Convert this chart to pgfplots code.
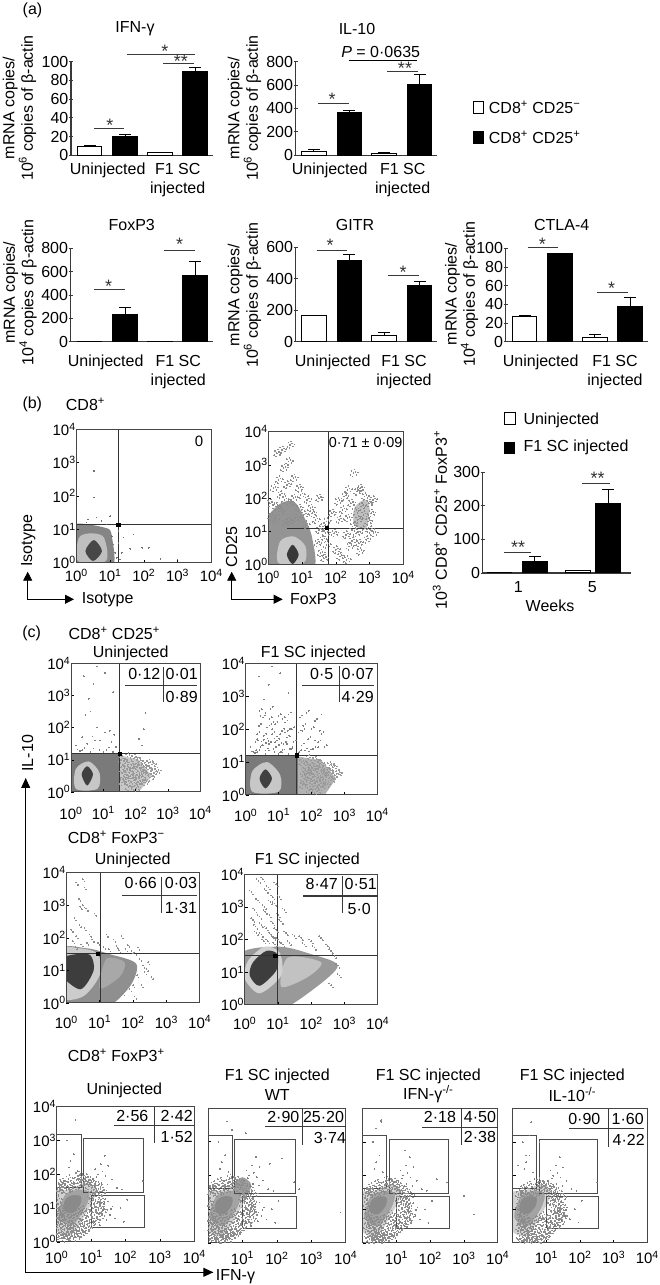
\documentclass[border=0pt]{standalone}
\usepackage{pgfplots}
\usepackage{pgfplotstable}
\pgfplotsset{compat=1.18}
\usepackage{fontspec}
\setmainfont{Liberation Sans}
\usetikzlibrary{arrows.meta}
\newcommand\fa{\fontsize{16}{19}\selectfont}
\newcommand\fy{\fontsize{16}{16.5}\selectfont}
\newcommand\fc{\fontsize{15}{17}\selectfont}
\newcommand\fs{\fontsize{18}{18}\selectfont}
\newcommand\tk[1]{10\textsuperscript{#1}}
\def\lshift{-2pt}
\def\tshift{-5pt}
\colorlet{ln}{gray!45!black}
\pgfplotsset{
 barax/.style={scale only axis,anchor=south west,axis x line=bottom,axis y line=left,
  axis line style={-,draw=ln,line width=1.1pt},xmin=0,ymin=0,clip=false,
  /pgf/number format/assume math mode=true,scaled y ticks=false,
  tick label style={font=\fa,inner sep=0.5pt},major tick length=4pt,
  ytick style={draw=ln,line width=.8pt},xtick style={draw=none},
  x tick label style={align=center,yshift=\lshift}},
 errs/.style={error bars/.cd,y dir=plus,y explicit,error bar style={line width=1pt,black},
  error mark options={rotate=90,mark size=6pt,line width=1pt,black}},
 wbar/.style={ybar,bar shift=0pt,bar width=24.5pt,fill=white,draw=black,line width=1pt,errs},
 bbar/.style={ybar,bar shift=0pt,bar width=24.5pt,fill=black,draw=black,line width=1pt,errs},
 flow/.style={scale only axis,anchor=south west,xmin=0,xmax=4,ymin=0,ymax=4,axis on top,
  xtick={0,1,2,3,4},ytick={0,1,2,3,4},
  xticklabels={\tk0,\tk1,\tk2,\tk3,\tk4},yticklabels={\tk0,\tk1,\tk2,\tk3,\tk4},
  axis line style={draw=gray!55!black,line width=1pt},tick align=inside,major tick length=3pt,
  xtick pos=bottom,ytick pos=left,tick style={draw=black,line width=.6pt},
  tick label style={font=\fc,inner sep=0.5pt},x tick label style={yshift=\tshift}},
 flowb/.style={flow,xticklabels={,\tk1,\tk2,\tk3,\tk4},yticklabels={}},
 blob/.style={draw=none,fill=#1,smooth cycle,mark=none},
 pts/.style={only marks,mark=*,mark size=.32pt,color=#1,mark options={draw=#1,fill=#1,line width=0pt}},
 gateline/.style={draw=gray!60!black,line width=.8pt,mark=none},
 qline/.style={draw=black!80,line width=.8pt,mark=none}
}
\pgfplotstableread[row sep=crcr]{x y\\
.05 .3\\.12 .15\\.2 .42\\.28 .22\\.33 .55\\.4 .1\\.47 .38\\.55 .6\\.6 .28\\.68 .47\\.75 .7\\.82 .55\\.9 .8\\.97 .62\\1.05 .95\\1.1 .75\\1.18 1.1\\1.22 .9\\1.15 1.3\\1.08 1.5\\1.02 1.72\\.93 1.6\\.85 1.85\\.78 1.7\\.66 1.62\\.58 1.78\\.47 1.55\\.38 1.65\\.29 1.48\\.18 1.58\\.07 1.45\\.02 1.2\\.1 1.62\\.04 .85\\.15 .68\\.03 .55\\.24 .8\\.31 .72\\.09 1.0\\.5 .75\\.62 .82\\.72 1.85\\1.0 1.15\\1.12 1.42\\.25 .05\\.52 .18\\.86 .35\\.7 .2\\.36 .32\\.16 .48\\1.28 1.2\\1.32 1.45\\1.26 .7\\.95 .42\\.45 .25\\.12 .58\\.22 .33\\.08 .72\\.41 .47\\.64 .38\\.8 .25\\.98 1.35\\.88 1.75\\.62 1.92\\.34 1.82\\.15 1.72\\1.18 1.62\\1.24 1.05\\.57 .08\\.3 .12\\.74 .9\\.02 1.55\\.06 .12\\1.14 .58\\1.34 .88\\
}\tcloud
\pgfplotstableread[row sep=crcr]{x y\\
1.05 1.85\\1.2 2.0\\1.12 2.15\\1.3 1.75\\1.42 1.95\\1.5 2.25\\1.28 2.3\\1.6 1.85\\1.75 1.6\\1.9 1.55\\1.2 .85\\1.35 .95\\1.5 1.2\\1.55 .8\\1.62 1.05\\1.7 .7\\1.85 1.0\\1.95 .6\\2.05 1.25\\1.45 .65\\1.1 .6\\1.25 .5\\1.4 2.55\\.3 3.0\\.55 3.6\\.35 2.2\\.5 2.6\\2.5 1.8\\.6 2.1\\.4 2.4\\1.38 1.15\\1.16 1.92\\1.22 1.68\\1.48 1.7\\1.33 2.08\\1.58 .98\\
}\tright
\pgfplotstableread[row sep=crcr]{x y\\
.35 1.3\\.5 1.5\\.7 1.35\\.9 1.6\\1.1 1.3\\1.25 1.55\\1.4 1.4\\1.2 1.9\\.8 2.0\\.6 2.5\\.45 2.4\\.4 3.6\\1.05 3.7\\.8 3.9\\1.3 3.1\\.55 2.9\\.35 1.7\\.15 1.45\\1.0 1.25\\1.3 1.25\\.6 1.25\\.75 1.6\\1.05 1.85\\.28 1.28\\.2 1.32\\.42 1.36\\.88 1.3\\1.18 1.38\\.66 1.72\\1.34 1.78\\2.25 1.95\\2.1 1.65\\2.2 1.45\\2.3 2.45\\.7 3.35\\
}\tup
\pgfplotstableread[row sep=crcr]{x y\\
1.55 1.0\\1.6 .7\\1.68 .9\\1.7 .4\\1.75 1.1\\1.8 .6\\1.85 .85\\1.9 .25\\1.95 1.05\\2.0 .5\\2.05 .8\\2.1 .95\\2.15 .35\\2.2 .65\\2.25 .8\\2.3 .55\\2.38 .7\\2.45 .45\\2.5 .85\\2.55 .6\\2.65 .65\\1.58 .3\\1.62 .5\\1.78 .15\\1.88 .42\\2.02 .12\\2.12 .58\\2.28 .3\\2.4 .9\\1.72 .72\\1.92 .75\\2.08 .32\\
}\tlow
\pgfplotstableread[row sep=crcr]{x y\\
.25 1.3\\.3 1.6\\.4 2.1\\.45 1.45\\.52 2.35\\.55 1.8\\.6 1.35\\.65 2.05\\.7 1.55\\.72 2.3\\.8 1.85\\.85 1.4\\.9 2.15\\.95 1.65\\1.0 2.4\\1.05 1.3\\1.1 1.95\\1.15 1.55\\1.2 2.2\\1.25 1.75\\1.3 2.45\\1.35 1.4\\1.4 2.0\\1.45 1.6\\1.6 1.9\\1.65 2.35\\1.7 1.5\\1.75 2.1\\1.8 1.35\\1.85 2.5\\1.9 1.7\\2.0 2.0\\2.05 1.4\\2.1 2.25\\2.2 1.6\\2.3 1.85\\2.4 1.45\\.35 1.85\\.48 1.62\\.62 1.58\\.78 2.15\\.88 1.72\\1.02 1.52\\1.12 2.3\\1.28 1.95\\1.62 1.3\\1.72 1.95\\1.92 1.32\\.42 2.55\\.75 2.62\\
}\tupb
\pgfplotstableread[row sep=crcr]{x y\\
.2 1.9\\.3 3.7\\.5 3.8\\.55 3.55\\.42 2.95\\.5 3.0\\.6 2.9\\.25 2.6\\.4 2.4\\.55 2.3\\.7 2.1\\.85 2.75\\.3 2.05\\.15 2.25\\.62 1.85\\.78 1.95\\.95 1.85\\1.2 2.1\\1.42 1.95\\1.5 1.75\\1.65 2.05\\1.78 1.65\\1.95 1.6\\2.05 1.55\\2.15 1.7\\2.2 1.35\\2.3 1.15\\2.35 .95\\2.45 1.25\\2.55 .8\\2.12 .85\\2.25 .55\\2.05 .2\\1.9 .42\\1.7 .3\\2.0 .55\\2.4 1.05\\1.12 1.72\\.45 1.8\\.28 1.72\\1.28 1.65\\1.58 1.62\\1.85 1.78\\.38 3.2\\
}\tsd
\pgfplotstableread[row sep=crcr]{x y\\
.55 3.85\\.72 3.6\\.4 3.2\\.6 3.0\\.9 3.1\\.75 2.75\\.45 2.7\\.85 2.5\\.65 2.35\\.95 2.3\\.35 2.2\\1.0 2.0\\1.1 2.55\\1.25 2.2\\1.5 2.1\\1.7 2.05\\.2 3.45\\.3 2.9\\.5 2.45\\.8 2.15\\.85 3.3\\.65 3.5\\.5 2.15\\.7 1.95\\.92 1.85\\.25 2.6\\.95 3.7\\1.05 3.3\\1.2 2.9\\1.35 1.9\\1.8 1.85\\2.0 1.95\\2.1 1.75\\2.3 2.05\\2.5 1.8\\2.6 1.65\\2.7 1.5\\2.8 1.2\\2.85 .9\\2.6 .6\\.62 2.85\\.78 3.15\\.42 3.8\\.88 2.05\\1.02 2.75\\.58 1.95\\.33 2.4\\1.15 1.85\\
}\tsdb
\pgfplotstableread[row sep=crcr]{x y\\
.2 1.35\\.35 1.6\\.5 1.25\\.65 1.85\\.8 1.4\\.95 2.1\\1.1 1.2\\1.25 1.7\\1.4 1.35\\1.5 2.0\\1.62 1.15\\1.72 .6\\1.55 .35\\1.7 .95\\.35 2.1\\.55 2.4\\.75 2.6\\.45 2.9\\.6 3.1\\.4 3.45\\.65 3.6\\.25 3.35\\.3 2.55\\.9 1.7\\.15 2.3\\.9 2.3\\1.15 1.95\\.05 1.85\\.08 1.45\\.62 1.3\\1.45 .65\\1.6 .75\\1.65 .2\\1.5 1.05\\1.72 1.3\\1.3 1.55\\1.05 1.5\\.75 2.0\\.48 1.95\\.22 1.75\\
2.05 1.9\\2.1 1.35\\2.2 1.65\\2.25 2.05\\2.3 .9\\2.35 1.4\\2.4 .55\\2.45 1.85\\2.5 1.15\\2.55 1.6\\2.6 .95\\2.62 2.2\\2.65 1.35\\2.7 .4\\2.75 1.75\\2.8 1.05\\2.82 1.5\\2.85 2.05\\2.9 .75\\2.95 1.3\\2.98 1.85\\3.02 1.05\\3.05 1.55\\3.1 1.95\\2.12 .25\\2.32 .15\\2.48 .72\\2.68 .65\\2.72 2.3\\3.12 .95\\2.52 2.75\\2.35 2.25\\1.95 .95\\2.0 .45\\1.88 1.55\\
}\tbtwo
% stipple: the same typed point list laid down at a few small offsets, for texture
\newcommand\stip[4]{% table, colour, dx, dy
 \addplot[pts=#2] table[x expr=\thisrow{x}+#3,y expr=\thisrow{y}+#4] {#1};
 \addplot[pts=#2] table[x expr=\thisrow{x}+#3+.06,y expr=\thisrow{y}+#4+.04] {#1};
 \addplot[pts=#2] table[x expr=\thisrow{x}+#3-.05,y expr=\thisrow{y}+#4+.07] {#1};
 \addplot[pts=#2] table[x expr=\thisrow{x}+#3+.09,y expr=\thisrow{y}+#4-.05] {#1};
 \addplot[pts=#2] table[x expr=\thisrow{x}+#3-.08,y expr=\thisrow{y}+#4-.06] {#1};
 \addplot[pts=#2] table[x expr=\thisrow{x}+#3+.03,y expr=\thisrow{y}+#4+.11] {#1};
 \addplot[pts=#2] table[x expr=\thisrow{x}+#3-.02,y expr=\thisrow{y}+#4-.1] {#1};
 \addplot[pts=#2] table[x expr=\thisrow{x}+#3+.13,y expr=\thisrow{y}+#4+.02] {#1};}
\newcommand\flowax[6][flow]{\begin{axis}[#1,at={(#2pt,1285pt-#3pt)},width=#4pt,height=#5pt]
#6
\end{axis}}
\newcommand\quadr[4]{% vx, hy, hstart, square x
 \addplot[qline] coordinates {(#1,0) (#1,4)};
 \addplot[qline] coordinates {(#3,#2) (4,#2)};
 \addplot[only marks,mark=square*,mark size=1.6pt,black] coordinates {(#4,#2)};}
\newcommand\gates{%
 \addplot[gateline] coordinates {(0,3.19) (.71,3.19) (.71,1.61) (0,1.61)};
 \addplot[gateline] coordinates {(.78,1.46) (2.53,1.46) (2.53,3.07) (.78,3.07) (.78,1.46)};
 \addplot[gateline] coordinates {(1.01,.44) (2.56,.44) (2.56,1.39) (1.01,1.39) (1.01,.44)};}
\newcommand\cthree[2]{% cloud
 \addplot[blob=black!18] coordinates {(-.1,.45) (.4,.2) (.85,.85) (1.15,1.5) (.85,1.75) (.35,1.55) (-.1,1.45)};
 \addplot[blob=black!36] coordinates {(.05,.75) (.45,.5) (.85,1.05) (.95,1.45) (.7,1.55) (.25,1.4)};
 \addplot[blob=black!46] coordinates {(.2,.95) (.45,.85) (.68,1.1) (.7,1.35) (.45,1.38) (.25,1.25)};
 \stip{\tcloud}{black!45}{#1}{#2}
 \addplot[pts=black!50] table {\tright};}
\newcommand\sig[6]{\draw[ln,line width=1pt] (#1,#3)--(#2,#3); \node[font=\fs,text=gray!40!black,inner sep=0pt] at (#4,#5) {#6};}
\newcommand\ftab[6]{\draw[ln,line width=1.1pt] (#1,#3)--(#2,#3); \draw[ln,line width=1pt] (#4,#5)--(#4,#6);}
\newcommand\tx[3]{\node[font=\fa,inner sep=0pt] at (#1,#2) {#3};}
\newcommand\txl[3]{\node[font=\fa,inner sep=0pt,anchor=west] at (#1,#2) {#3};}
\newcommand\ylab[3]{\node[rotate=90,align=center,font=\fy,inner sep=0pt] at (#1,#2) {mRNA copies/\\10\textsuperscript{#3} copies of β-actin};}
\newcommand\barpanel[9]{\begin{axis}[barax,at={(#1pt,1285pt-#2pt)},width=#3pt,height=#4pt,xmax=#3,ymax=#5,ytick={#6},xtick={#7},xticklabels={Uninjected,{F1 SC\\injected}}]
\addplot[wbar] coordinates {#8};
\addplot[bbar] coordinates {#9};
\end{axis}}
\begin{document}
\begin{tikzpicture}[x=1pt,y=1pt]
\path[use as bounding box] (0pt,0pt) rectangle (659pt,1285pt);
% ---------- (a) row 1
\def\lshift{-5pt}
\barpanel{71}{155.3}{142}{93.6}{100}{0,20,40,60,80,100}{36.7,106.7}
 {(18.5,9.5) +- (0,.5) (89,2.5) +- (0,1)}{(54,20.5) +- (0,2) (124,90) +- (0,4)}
\barpanel{295.7}{155.3}{141.6}{93.6}{800}{0,200,400,600,800}{34,107}
 {(18.1,30) +- (0,18) (88.5,15) +- (0,11)}{(53.6,364) +- (0,17) (123.8,603) +- (0,86)}
% ---------- (a) row 2
\def\lshift{-11pt}
\barpanel{70.7}{341.7}{142.3}{93.4}{800}{0,200,400,600,800}{35,107.6}
 {(18.8,5) +- (0,0) (89.3,5) +- (0,0)}{(54.3,234) +- (0,63) (124.3,571) +- (0,115)}
\barpanel{295.7}{341.7}{141.6}{94.7}{600}{0,200,400,600}{37,108.3}
 {(18.1,163) +- (0,4) (88.5,42) +- (0,15)}{(53.6,513) +- (0,38) (123.8,359) +- (0,21)}
\barpanel{505.7}{341.7}{142.6}{93.4}{100}{0,20,40,60,80,100}{35,109.3}
 {(18.8,27.5) +- (0,.5) (89.1,5) +- (0,2.5)}{(54.1,94) +- (0,.5) (124.5,37.5) +- (0,9.5)}
% ---------- (b) bar
\def\lshift{-6pt}
\begin{axis}[barax,at={(482.7pt,1285pt-573pt)},width=148pt,height=100.7pt,xmax=148,ymax=300,
 ytick={0,100,200,300},xtick={35.6,109.6},xticklabels={1,5}]
\addplot[wbar] coordinates {(16.8,2) +- (0,0) (95.5,8) +- (0,0)};
\addplot[bbar] coordinates {(52.2,33) +- (0,16) (125.5,207) +- (0,43)};
\end{axis}
% ---------- (b) flow
\def\tshift{-6pt}
\flowax{76.3}{562.7}{135}{133.4}{
 \addplot[blob=black!48] coordinates {(-.2,-.2) (1.05,-.2) (1.05,.8) (.85,1.05) (-.2,1.1)};
 \addplot[blob=black!25] coordinates {(.05,.05) (.88,.05) (.82,.75) (.45,.88) (.08,.75)};
 \addplot[blob=black!72] coordinates {(.5,.05) (.76,.35) (.52,.68) (.27,.35)};
 \addplot[pts=black!55] coordinates {(.52,2.75) (.52,1.95) (.6,1.35) (.35,1.3) (.75,1.25) (1.0,1.4) (.3,1.2) (.9,1.15) (1.25,.95) (1.4,.75) (1.7,.85) (1.25,.6) (1.35,.3) (1.6,.42) (1.95,.45) (2.15,.45) (1.15,.3) (1.2,.15) (2.5,.12) (3.0,.1) (1.05,.8) (1.1,.55) (1.3,.1)};
 \quadr{1.244}{1.151}{0}{1.244}
}
\flowax{268.3}{564.7}{135}{133}{
 \addplot[blob=black!42] coordinates {(-.2,-.2) (1.3,-.2) (1.3,.8) (1.05,1.45) (.75,1.9) (.3,1.8) (-.2,1.1)};
 \addplot[blob=black!22] coordinates {(.3,.05) (1.05,.05) (1.1,.55) (.75,.85) (.35,.7)};
 \addplot[blob=black!78] coordinates {(.72,.02) (.9,.3) (.72,.6) (.55,.3)};
 \addplot[blob=black!25] coordinates {(2.55,1.2) (2.9,1.1) (3.0,1.7) (2.85,1.95) (2.55,1.7)};
 \stip{\tbtwo}{black!45}{0}{0}
 \quadr{1.79}{1.104}{.545}{1.72}
}
% ---------- (c) row 1
\def\tshift{-14pt}
\flowax{71}{792}{129.3}{128.7}{
 \addplot[draw=none,fill=black!22] coordinates {(1.495,0) (2.1,0) (2.5,.5) (2.1,1.0) (1.495,1.15)} --cycle;
 \addplot[draw=none,fill=black!52] coordinates {(0,0) (1.495,0) (1.495,1.2) (0,1.2)} --cycle;
 \addplot[blob=black!22] coordinates {(.15,.1) (.82,.1) (.88,.6) (.55,.95) (.15,.72)};
 \addplot[blob=black!75] coordinates {(.5,.2) (.68,.55) (.5,.8) (.33,.55)};
 \addplot[pts=black!50] table {\tup};
 \stip{\tlow}{black!40}{0}{0}
 \quadr{1.495}{1.2}{0}{1.495}
}
\def\tshift{-13pt}
\flowax{245.7}{795}{131.6}{131.7}{
 \addplot[draw=none,fill=black!30] coordinates {(1.4,0) (2.4,0) (2.75,.5) (2.3,1.05) (1.4,1.2)} --cycle;
 \addplot[draw=none,fill=black!52] coordinates {(0,0) (1.6,0) (1.6,1.2) (0,1.2)} --cycle;
 \addplot[blob=black!22] coordinates {(.2,.1) (1.0,.1) (1.05,.6) (.65,1.0) (.2,.72)};
 \addplot[blob=black!75] coordinates {(.6,.2) (.8,.5) (.6,.78) (.42,.5)};
 \addplot[pts=black!50] table {\tup};
 \addplot[pts=black!50] table {\tupb};
 \addplot[pts=black!50] table[x expr=\thisrow{x}+.07,y expr=\thisrow{y}+.06] {\tupb};
 \stip{\tlow}{black!40}{.15}{0}
 \quadr{1.538}{1.207}{0}{1.538}
}
% ---------- (c) row 2
\def\tshift{-12pt}
\flowax{66.3}{1003}{133.4}{130.3}{
 \addplot[blob=black!44] coordinates {(-.2,-.2) (1.1,-.2) (1.9,.5) (2.1,1.2) (1.3,1.5) (.6,1.68) (-.2,1.6)};
 \addplot[blob=black!34] coordinates {(1.0,.45) (1.6,.8) (1.75,1.25) (1.2,1.35)};
 \addplot[blob=black!20] coordinates {(-.2,.2) (.5,.2) (1.0,.85) (.95,1.5) (.4,1.68) (-.2,1.6)};
 \addplot[blob=black!76] coordinates {(-.2,.9) (.42,.42) (.82,1.0) (.72,1.47) (.3,1.5) (-.2,1.35)};
 \addplot[pts=black!45] table {\tsd};
 \addplot[pts=black!45] table[x expr=\thisrow{x}+.05,y expr=\thisrow{y}-.07] {\tsd};
 \quadr{1.01}{1.51}{0}{.95}
}
\flowax{244.7}{1004.7}{133}{130.4}{
 \addplot[blob=black!40] coordinates {(-.2,-.2) (1.0,-.2) (2.1,.5) (2.8,1.2) (2.0,1.55) (1.0,1.78) (-.2,1.5)};
 \addplot[blob=black!24] coordinates {(1.1,.55) (1.9,.85) (2.3,1.3) (1.3,1.45)};
 \addplot[blob=black!18] coordinates {(0,.8) (.45,.35) (1.1,.9) (1.05,1.6) (.6,1.78) (.1,1.35)};
 \addplot[blob=black!76] coordinates {(.15,.9) (.45,.58) (.95,1.05) (.98,1.55) (.65,1.65) (.25,1.3)};
 \addplot[pts=black!45] table {\tsdb};
 \addplot[pts=black!45] table[x expr=\thisrow{x}+.05,y expr=\thisrow{y}-.07] {\tsdb};
 \addplot[pts=black!45] table[x expr=\thisrow{x}-.06,y expr=\thisrow{y}+.05] {\tsdb};
 \quadr{.98}{1.515}{0}{.92}
}
% ---------- (c) row 3
\def\tshift{-8pt}
\flowax{56.7}{1242}{137.6}{135.3}{
 \cthree{0}{.05}
 \gates
}
\flowax[flowb]{208}{1243}{137.7}{135}{
 \cthree{0}{0}
 \addplot[blob=black!38] coordinates {(.8,1.45) (1.15,1.45) (1.25,1.75) (1.0,1.95) (.78,1.75)};
 \addplot[pts=black!50] coordinates {(2.65,1.6) (3.85,.9) (2.15,2.5) (1.8,2.35) (.7,3.35) (1.1,3.25)};
 \gates
}
\flowax[flowb]{362.7}{1243}{135}{134.7}{
 \cthree{.08}{-.05}
 \addplot[pts=black!50] coordinates {(3.0,1.4) (3.3,.85) (.55,3.65) (.4,3.4) (1.25,2.75) (2.2,1.9)};
 \gates
}
\flowax[flowb]{512.7}{1242.7}{134.6}{134}{
 \cthree{.15}{-.1}
 \addplot[pts=black!50] coordinates {(.5,3.2) (.15,2.3) (.4,2.6) (.65,1.9) (.8,3.0)};
 \gates
}
% ---------- annotations (pixel coordinates, y down)
\begin{scope}[shift={(0pt,1285pt)},x=1pt,y=-1pt]
\tx{32.5}{10}{(a)}
\tx{135}{29}{IFN-γ}
\tx{357}{29}{IL-10}
\ylab{19.5}{108}{6}
\ylab{244.5}{108}{6}
\sig{94.3}{124.3}{129}{110}{125}{*}
\sig{127.3}{194.7}{54.7}{165}{51}{*}
\sig{163.3}{194.3}{63.7}{181}{61}{**}
\sig{318.3}{349}{103.7}{332}{99}{*}
\draw[black,line width=1pt] (349,61)--(417,61);
\tx{380.7}{52}{\textit{P} = 0·0635}
\sig{387}{418}{71.7}{405}{68}{**}
\fill[white,draw=black,line width=.9pt] (473,101.5) rectangle (483.5,113.5);
\txl{488.7}{107}{CD8\textsuperscript{+} CD25\textsuperscript{−}}
\fill[black] (472.7,131.3) rectangle (483.7,144.3);
\txl{488.7}{137}{CD8\textsuperscript{+} CD25\textsuperscript{+}}
\tx{131.7}{224.7}{FoxP3}
\tx{355}{224.7}{GITR}
\tx{561.7}{224.7}{CTLA-4}
\ylab{20}{292.7}{4}
\ylab{244.5}{295}{6}
\ylab{461.7}{294}{4}
\sig{94.3}{124.7}{290}{108.7}{286}{*}
\sig{163.7}{194.7}{250.7}{179.7}{244}{*}
\sig{316.7}{347.3}{251}{330}{245}{*}
\sig{388}{419.3}{276}{403}{272}{*}
\sig{527.7}{558}{247.7}{542.3}{244}{*}
\sig{597.3}{628}{292.3}{611.7}{288}{*}
% (b)
\tx{32.3}{404}{(b)}
\txl{65.7}{404}{CD8\textsuperscript{+}}
\node[font=\fc,inner sep=0pt] at (199,441.7) {0};
\node[font=\fontsize{14.4}{16}\selectfont,inner sep=0pt] at (365.7,442.7) {0·71 ± 0·09};
\draw[black,line width=.8pt,{Triangle[length=9pt,width=9pt]}-{Triangle[length=9pt,width=9pt]}] (27.7,571.7)--(27.7,599.3)--(74,599.3);
\txl{81.7}{599.3}{Isotype}
\node[rotate=90,font=\fa,inner sep=0pt] at (28.3,540.7) {Isotype};
\draw[black,line width=.8pt,{Triangle[length=9pt,width=9pt]}-{Triangle[length=9pt,width=9pt]}] (231.7,571.7)--(231.7,599.3)--(282.7,599.3);
\txl{290}{599.3}{FoxP3}
\node[rotate=90,font=\fa,inner sep=0pt] at (231.7,546.7) {CD25};
\fill[white,draw=black,line width=.9pt] (504.5,412) rectangle (515,424);
\txl{523.3}{420.7}{Uninjected}
\fill[black] (504,441.7) rectangle (515,454.3);
\txl{523.3}{447.3}{F1 SC injected}
\tx{550}{605.7}{Weeks}
\node[rotate=90,font=\fa,inner sep=0pt] at (440,520) {10\textsuperscript{3} CD8\textsuperscript{+} CD25\textsuperscript{+} FoxP3\textsuperscript{+}};
\sig{504}{531}{552.7}{518}{547.5}{**}
\sig{582}{610}{483.7}{597.7}{478.5}{**}
% (c) row 1
\tx{31.7}{633.3}{(c)}
\txl{68.3}{633.3}{CD8\textsuperscript{+} CD25\textsuperscript{+}}
\tx{130.7}{653.3}{Uninjected}
\tx{313.3}{653.3}{F1 SC injected}
\ftab{125.3}{197}{685.7}{163.3}{666.7}{702.3}
\tx{144.3}{674.3}{0·12}\tx{181.7}{674.3}{0·01}\tx{181.7}{697.3}{0·89}
\ftab{302}{374}{685.7}{339.3}{666}{702}
\tx{321.7}{674.3}{0·5}\tx{357.7}{674.3}{0·07}\tx{357.7}{697.3}{4·29}
\draw[black,line width=1pt,-{Triangle[length=10pt,width=9pt]}] (213.3,1272.3)--(25.7,1272.3)--(25.7,778);
\draw[black,line width=1pt,-{Triangle[length=10pt,width=9pt]}] (60,1272.3)--(213.3,1272.3);
\txl{215.7}{1276.5}{IFN-γ}
\node[rotate=90,font=\fa,inner sep=0pt] at (27.5,753.3) {IL-10};
% (c) row 2
\txl{67.7}{837.3}{CD8\textsuperscript{+} FoxP3\textsuperscript{−}}
\tx{132.7}{860.3}{Uninjected}
\tx{307.3}{860.3}{F1 SC injected}
\ftab{122.3}{196.7}{895.7}{161.7}{876.7}{912.7}
\tx{140.7}{883.3}{0·66}\tx{181}{883.3}{0·03}\tx{181}{907.7}{1·31}
\ftab{303}{377.7}{896}{342.7}{876}{913.3}
\tx{321.7}{884.3}{8·47}\tx{360.7}{884.3}{0·51}\tx{359.3}{908.7}{5·0}
% (c) row 3
\txl{67.7}{1055}{CD8\textsuperscript{+} FoxP3\textsuperscript{+}}
\tx{124.3}{1090.7}{Uninjected}
\tx{277.3}{1076}{F1 SC injected}\tx{277.3}{1095}{WT}
\tx{428.3}{1076}{F1 SC injected}\tx{428.3}{1094.3}{IFN-γ\textsuperscript{-/-}}
\tx{572.3}{1076}{F1 SC injected}\tx{572.3}{1094.7}{IL-10\textsuperscript{-/-}}
\ftab{114}{194.3}{1125.7}{154.7}{1106.7}{1143.3}
\tx{132.3}{1116}{2·56}\tx{176.7}{1116}{2·42}\tx{176.7}{1136.7}{1·52}
\ftab{265.3}{345.7}{1126.7}{302.3}{1108}{1145}
\tx{283.3}{1117}{2·90}\tx{323.5}{1117}{25·20}\tx{330}{1138.3}{3·74}
\ftab{422}{497.7}{1127.3}{461.7}{1108.3}{1145}
\tx{440}{1117.3}{2·18}\tx{480}{1117.3}{4·50}\tx{480}{1137}{2·38}
\ftab{569.3}{644}{1128.7}{608.7}{1108.7}{1146.7}
\tx{584.3}{1119}{0·90}\tx{627.7}{1119}{1·60}\tx{628.7}{1140.3}{4·22}
\end{scope}
\end{tikzpicture}
\end{document}
